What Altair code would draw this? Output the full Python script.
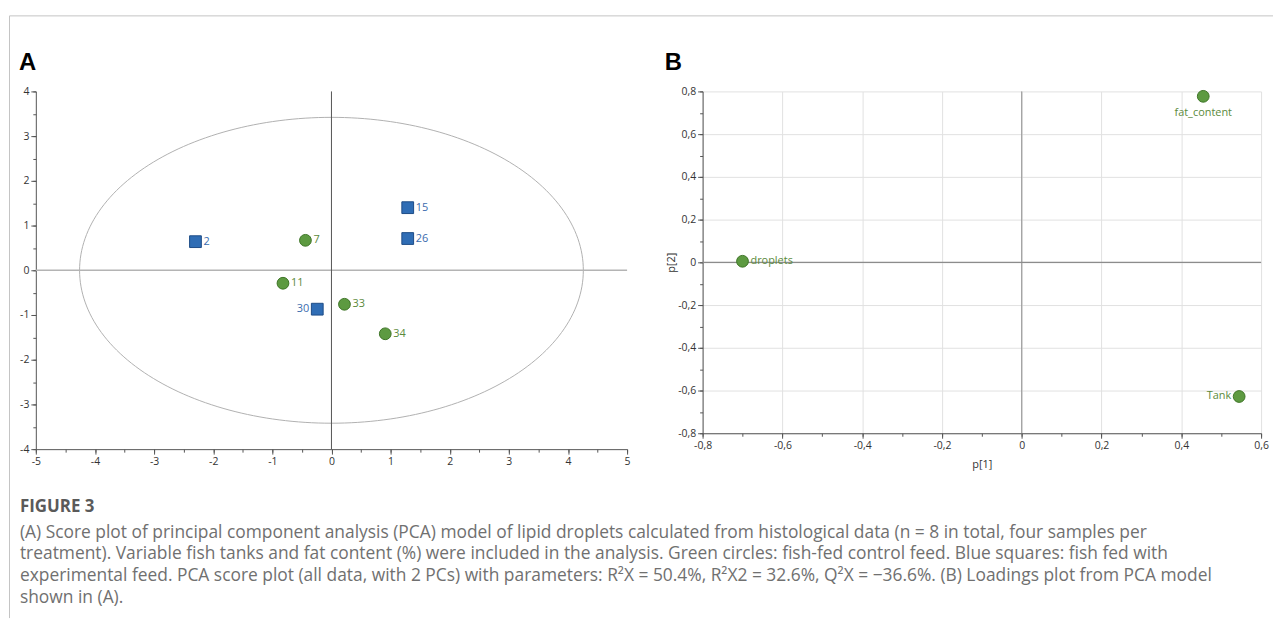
import altair as alt
import numpy as np
import pandas as pd

# ---------------- data ----------------
# Panel A: PCA scores
score_ids = ["2", "7", "11", "15", "26", "30", "33", "34"]
score_t1 = [-2.30, -0.44, -0.82, 1.29, 1.29, -0.24, 0.22, 0.91]
score_t2 = [0.64, 0.67, -0.29, 1.40, 0.71, -0.87, -0.76, -1.42]
score_feed = ["Experimental", "Control", "Control", "Experimental",
              "Experimental", "Experimental", "Control", "Control"]
score_label_left = [False, False, False, False, False, True, False, False]

# Hotelling T2 ellipse semi-axes (score units)
ellipse_semi_t1 = 4.26
ellipse_semi_t2 = 3.42

a_x_ticks = [-5, -4, -3, -2, -1, 0, 1, 2, 3, 4, 5]
a_y_ticks = [-4, -3, -2, -1, 0, 1, 2, 3, 4]
a_x_minor = [-5, -4.5, -4, -3.5, -3, -2.5, -2, -1.5, -1, -0.5, 0,
             0.5, 1, 1.5, 2, 2.5, 3, 3.5, 4, 4.5, 5]
a_y_minor = [-4, -3.5, -3, -2.5, -2, -1.5, -1, -0.5, 0,
             0.5, 1, 1.5, 2, 2.5, 3, 3.5, 4]

# Panel B: loadings
load_vars = ["droplets", "fat_content", "Tank"]
load_p1 = [-0.70, 0.455, 0.545]
load_p2 = [0.005, 0.777, -0.628]
load_label_pos = ["right", "below", "left"]

b_x_ticks = [-0.8, -0.6, -0.4, -0.2, 0, 0.2, 0.4, 0.6]
b_y_ticks = [-0.8, -0.6, -0.4, -0.2, 0, 0.2, 0.4, 0.6, 0.8]
b_x_minor = [-0.8, -0.7, -0.6, -0.5, -0.4, -0.3, -0.2, -0.1, 0,
             0.1, 0.2, 0.3, 0.4, 0.5, 0.6]
b_y_minor = [-0.8, -0.7, -0.6, -0.5, -0.4, -0.3, -0.2, -0.1, 0,
             0.1, 0.2, 0.3, 0.4, 0.5, 0.6, 0.7, 0.8]

panel_letters = ["A", "B"]
caption_heading = "FIGURE 3"
caption_lines = [
    "(A) Score plot of principal component analysis (PCA) model of lipid droplets calculated from histological data (n = 8 in total, four samples per",
    "treatment). Variable fish tanks and fat content (%) were included in the analysis. Green circles: fish-fed control feed. Blue squares: fish fed with",
    "experimental feed. PCA score plot (all data, with 2 PCs) with parameters: R²X = 50.4%, R²X2 = 32.6%, Q²X = −36.6%. (B) Loadings plot from PCA model",
    "shown in (A).",
]

# ---------------- tables ----------------
scores_df = pd.DataFrame({"id": score_ids, "t1": score_t1, "t2": score_t2,
                          "feed": score_feed, "left": score_label_left})
theta = np.linspace(0, 2 * np.pi, 241)
ell_df = pd.DataFrame({"x": ellipse_semi_t1 * np.cos(theta),
                       "y": ellipse_semi_t2 * np.sin(theta),
                       "i": np.arange(len(theta))})
load_df = pd.DataFrame({"var": load_vars, "p1": load_p1, "p2": load_p2,
                        "pos": load_label_pos})
zero_df = pd.DataFrame({"v": [0]})
one_df = pd.DataFrame({"x": [0], "y": [0]})
cap_df = pd.DataFrame({"i": list(range(len(caption_lines))), "text": caption_lines})

FONT = "Open Sans"
CAP_FONT = "Open Sans"
feed_dom = ["Control", "Experimental"]

axis_common = dict(domainColor="#555", tickColor="#555", labelColor="#333",
                   labelFont=FONT, labelFontSize=10.5, title=None,
                   labelFlush=False, labelOverlap=False)


def letter(txt, dx):
    return alt.Chart(pd.DataFrame({"t": [txt]})).mark_text(
        align="left", baseline="alphabetic", font="Liberation Sans", fontSize=24,
        fontWeight="bold", color="black").encode(
        x=alt.value(dx), y=alt.value(-22), text="t:N")


# ---------------- panel A ----------------
WA, HA = 595, 360
xsA = alt.Scale(domain=[-5, 5], nice=False, zero=False)
ysA = alt.Scale(domain=[-4, 4], nice=False, zero=False)

ellipse = alt.Chart(ell_df).mark_line(color="#b0b0b0", strokeWidth=1).encode(
    x=alt.X("x:Q", scale=xsA, axis=alt.Axis(values=a_x_ticks, tickSize=5, grid=False,
                                            labelExpr="'' + datum.value", orient="bottom",
                                            **axis_common)),
    y=alt.Y("y:Q", scale=ysA, axis=alt.Axis(values=a_y_ticks, tickSize=5, grid=False,
                                            labelExpr="'' + datum.value", orient="left",
                                            **axis_common)),
    order="i:Q",
)
minorA = alt.Chart(one_df).mark_point(opacity=0).encode(
    x=alt.X("x:Q", scale=xsA, axis=alt.Axis(values=a_x_minor, labels=False, domain=False,
                                            tickSize=3, tickColor="#555", grid=False,
                                            title=None, orient="bottom")),
    y=alt.Y("y:Q", scale=ysA, axis=alt.Axis(values=a_y_minor, labels=False, domain=False,
                                            tickSize=3, tickColor="#555", grid=False,
                                            title=None, orient="left")),
)
hlineA = alt.Chart(zero_df).mark_rule(color="#b4b4b4", strokeWidth=1.5).encode(
    y=alt.Y("v:Q", scale=ysA, axis=None))
vlineA = alt.Chart(zero_df).mark_rule(color="#555", strokeWidth=1).encode(
    x=alt.X("v:Q", scale=xsA, axis=None))

ptsA = alt.Chart(scores_df).mark_point(filled=True, size=140, strokeWidth=1, opacity=1).encode(
    x=alt.X("t1:Q", scale=xsA, axis=None),
    y=alt.Y("t2:Q", scale=ysA, axis=None),
    shape=alt.Shape("feed:N", scale=alt.Scale(domain=feed_dom, range=["circle", "square"]), legend=None),
    fill=alt.Fill("feed:N", scale=alt.Scale(domain=feed_dom, range=["#5d9a41", "#2f6db5"]), legend=None),
    stroke=alt.Stroke("feed:N", scale=alt.Scale(domain=feed_dom, range=["#3e7527", "#1d4c86"]), legend=None),
)
lab_color = alt.Color("feed:N", scale=alt.Scale(domain=feed_dom, range=["#5b8a3c", "#3a6cae"]), legend=None)
labRA = alt.Chart(scores_df).transform_filter("!datum.left").mark_text(
    align="left", baseline="middle", dx=8, font=FONT, fontSize=11).encode(
    x=alt.X("t1:Q", scale=xsA, axis=None), y=alt.Y("t2:Q", scale=ysA, axis=None),
    text="id:N", color=lab_color)
labLA = alt.Chart(scores_df).transform_filter("datum.left").mark_text(
    align="right", baseline="middle", dx=-8, font=FONT, fontSize=11).encode(
    x=alt.X("t1:Q", scale=xsA, axis=None), y=alt.Y("t2:Q", scale=ysA, axis=None),
    text="id:N", color=lab_color)

# figure frame (decoration): top and left border lines
frame_top = alt.Chart(one_df).mark_rule(color="#c4c4c4", strokeWidth=1).encode(
    x=alt.value(-26.5), x2=alt.value(1245), y=alt.value(-76))
frame_left = alt.Chart(one_df).mark_rule(color="#c4c4c4", strokeWidth=1).encode(
    x=alt.value(-26.5), y=alt.value(-76), y2=alt.value(530))

panelA = alt.layer(ellipse, minorA, hlineA, vlineA, ptsA, labRA, labLA,
                   frame_top, frame_left, letter(panel_letters[0], -17)).resolve_axis(
    x="independent", y="independent").properties(width=WA, height=HA)

# ---------------- panel B ----------------
WB, HB = 562, 344
xsB = alt.Scale(domain=[-0.8, 0.6], nice=False, zero=False)
ysB = alt.Scale(domain=[-0.8, 0.8], nice=False, zero=False)
comma_expr = "datum.value == 0 ? '0' : replace('' + round(datum.value * 10) / 10, '.', ',')"

gridB = alt.Chart(one_df).mark_point(opacity=0).encode(
    x=alt.X("x:Q", scale=xsB, axis=alt.Axis(values=b_x_ticks, tickSize=5, grid=True, gridColor="#e1e1e1",
                                            labelExpr=comma_expr, orient="bottom",
                                            **{**axis_common, "title": "p[1]"},
                                            titleFont=FONT, titleFontSize=11, titleFontWeight="normal",
                                            titleColor="#333", titlePadding=8)),
    y=alt.Y("y:Q", scale=ysB, axis=alt.Axis(values=b_y_ticks, tickSize=5, grid=True, gridColor="#e1e1e1",
                                            labelExpr=comma_expr, orient="left",
                                            **{**axis_common, "title": "p[2]"},
                                            titleFont=FONT, titleFontSize=11, titleFontWeight="normal",
                                            titleColor="#333", titlePadding=1)),
)
minorB = alt.Chart(one_df).mark_point(opacity=0).encode(
    x=alt.X("x:Q", scale=xsB, axis=alt.Axis(values=b_x_minor, labels=False, domain=False,
                                            tickSize=3, tickColor="#555", grid=False,
                                            title=None, orient="bottom")),
    y=alt.Y("y:Q", scale=ysB, axis=alt.Axis(values=b_y_minor, labels=False, domain=False,
                                            tickSize=3, tickColor="#555", grid=False,
                                            title=None, orient="left")),
)
hlineB = alt.Chart(zero_df).mark_rule(color="#8c8c8c", strokeWidth=1.2).encode(
    y=alt.Y("v:Q", scale=ysB, axis=None))
vlineB = alt.Chart(zero_df).mark_rule(color="#8c8c8c", strokeWidth=1).encode(
    x=alt.X("v:Q", scale=xsB, axis=None))
ptsB = alt.Chart(load_df).mark_point(filled=True, size=140, strokeWidth=1, opacity=1,
                                     fill="#5d9a41", stroke="#3e7527", shape="circle").encode(
    x=alt.X("p1:Q", scale=xsB, axis=None), y=alt.Y("p2:Q", scale=ysB, axis=None))


def load_label(pos, **kw):
    return alt.Chart(load_df).transform_filter(f"datum.pos == '{pos}'").mark_text(
        font=FONT, fontSize=11, color="#5b8a3c", **kw).encode(
        x=alt.X("p1:Q", scale=xsB, axis=None), y=alt.Y("p2:Q", scale=ysB, axis=None),
        text="var:N")


labB_r = load_label("right", align="left", baseline="middle", dx=8)
labB_l = load_label("left", align="right", baseline="middle", dx=-8)
labB_b = load_label("below", align="center", baseline="middle", dy=17)

panelB = alt.layer(gridB, minorB, hlineB, vlineB, ptsB, labB_r, labB_l, labB_b,
                   letter(panel_letters[1], -38)).resolve_axis(
    x="independent", y="independent").properties(width=WB, height=HB)

# ---------------- caption ----------------
cap_head = alt.Chart(pd.DataFrame({"t": [caption_heading]})).mark_text(
    align="left", baseline="middle", font=CAP_FONT, fontSize=17, fontWeight="bold",
    color="#5a5a5a").encode(x=alt.value(-16), y=alt.value(-14), text="t:N")
cap_body = alt.Chart(cap_df).mark_text(
    align="left", baseline="middle", font=CAP_FONT, fontSize=17.5, color="#707070").encode(
    x=alt.value(-16),
    y=alt.Y("i:Q", scale=alt.Scale(domain=[0, 3], range=[12, 78]), axis=None),
    text="text:N",
)
caption = alt.layer(cap_head, cap_body).properties(width=580, height=90)

chart = alt.concat(panelA, panelB, caption, columns=2, bounds="flush",
                   spacing={"row": 72, "column": 76}).properties(
    padding={"left": 1, "top": 5, "right": 0, "bottom": 0},
    background="white",
).configure_view(stroke=None)

chart.save("out.html", embed_options={"renderer": "svg", "actions": False})
